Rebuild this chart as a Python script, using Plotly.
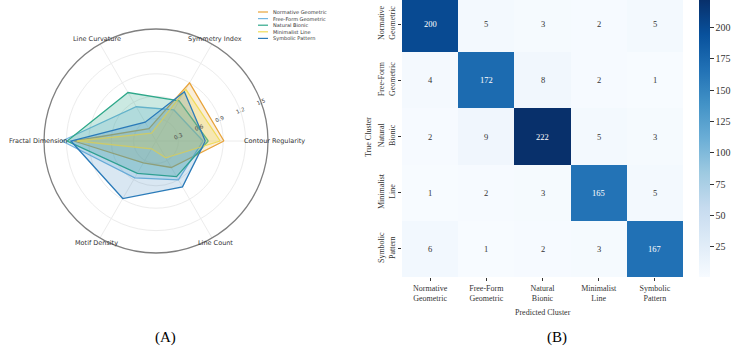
import math
import plotly.graph_objects as go

W, H = 733, 352

# ---------------- Radar data ----------------
radar_axes = ["Contour Regularity", "Symmetry Index", "Line Curvature",
              "Fractal Dimension", "Motif Density", "Line Count"]
series_names = ["Normative Geometric", "Free-Form Geometric", "Natural Bionic",
                "Minimalist Line", "Symbolic Pattern"]
normative = [0.91, 0.90, 0.19, 1.10, 0.34, 0.41]
free_form = [0.63, 0.48, 0.53, 1.26, 0.57, 0.60]
natural = [0.70, 0.62, 0.75, 1.19, 0.50, 0.55]
minimalist = [0.86, 0.80, 0.12, 1.06, 0.12, 0.26]
symbolic = [0.66, 0.76, 0.29, 1.14, 0.89, 0.71]
radial_ticks = [0.3, 0.6, 0.9, 1.2, 1.5]

# ---------------- Confusion matrix data ----------------
clusters = ["Normative Geometric", "Free-Form Geometric", "Natural Bionic",
            "Minimalist Line", "Symbolic Pattern"]
cm = [
    [200, 5, 3, 2, 5],
    [4, 172, 8, 2, 1],
    [2, 9, 222, 5, 3],
    [1, 2, 3, 165, 5],
    [6, 1, 2, 3, 167],
]
cbar_ticks = [25, 50, 75, 100, 125, 150, 175, 200]

colors = ["#E8A33A", "#74B6DF", "#2FA88A", "#F0DC5A", "#2B7BB9"]
fills = ["rgba(232,163,58,0.20)", "rgba(116,182,223,0.25)", "rgba(47,168,138,0.25)",
         "rgba(240,220,90,0.30)", "rgba(43,123,185,0.18)"]
all_series = [normative, free_form, natural, minimalist, symbolic]

fig = go.Figure()

# radar geometry (pixels)
cx, cy, R = 156, 141, 112
dom_x = [(cx - R) / W, (cx + R) / W]
dom_y = [1 - (cy + R) / H, 1 - (cy - R) / H]

for name, vals, col, fc in zip(series_names, all_series, colors, fills):
    fig.add_trace(go.Scatterpolar(
        r=vals + vals[:1], theta=radar_axes + radar_axes[:1],
        mode="lines", fill="toself", fillcolor=fc,
        line=dict(color=col, width=1.3), name=name, showlegend=False,
        subplot="polar"))

fig.update_layout(polar=dict(
    domain=dict(x=dom_x, y=dom_y),
    bgcolor="white",
    radialaxis=dict(range=[0, 1.5], tickvals=radial_ticks, angle=22.5, tickangle=0,
                    showline=False, ticks="", gridcolor="#ececec", gridwidth=0.8,
                    tickfont=dict(size=5.5, color="#444", family="DejaVu Sans")),
    angularaxis=dict(rotation=0, direction="counterclockwise", showticklabels=False,
                     ticks="", gridcolor="#ececec", gridwidth=0.8,
                     showline=True, linecolor="#808080", linewidth=1.3),
))

annotations = []
# angular labels
for i, lab in enumerate(radar_axes):
    a = math.radians(i * 360 / len(radar_axes))
    px = cx + 118 * math.cos(a)
    py = cy - 118 * math.sin(a)
    annotations.append(dict(x=px / W, y=1 - py / H, xref="paper", yref="paper",
                            text=lab, showarrow=False, xanchor="center", yanchor="middle",
                            font=dict(size=6.5, color="#333", family="DejaVu Sans")))

# custom compact legend
shapes = []
leg_x0, leg_y0, leg_dy = 258, 12, 6.6
for k, (name, col) in enumerate(zip(series_names, colors)):
    yy = leg_y0 + k * leg_dy
    shapes.append(dict(type="line", xref="paper", yref="paper",
                       x0=leg_x0 / W, x1=(leg_x0 + 10) / W, y0=1 - yy / H, y1=1 - yy / H,
                       line=dict(color=col, width=1.2)))
    annotations.append(dict(x=(leg_x0 + 13) / W, y=1 - yy / H, xref="paper", yref="paper",
                            text=name, showarrow=False, xanchor="left", yanchor="middle",
                            font=dict(size=5, color="#333", family="DejaVu Sans")))

# ---------------- Heatmap ----------------
blues = ['rgb(247,251,255)', 'rgb(222,235,247)', 'rgb(198,219,239)', 'rgb(158,202,225)',
         'rgb(107,174,214)', 'rgb(66,146,198)', 'rgb(33,113,181)', 'rgb(8,81,156)',
         'rgb(8,48,107)']
cscale = [[i / (len(blues) - 1), c] for i, c in enumerate(blues)]
zmin = min(min(r) for r in cm)
zmax = max(max(r) for r in cm)
idx = list(range(len(clusters)))
ticktext = [c.replace(" ", "<br>") for c in clusters]

hx0, hx1, hy1 = 402, 683, 277
fig.add_trace(go.Heatmap(
    z=cm, x=idx, y=idx, colorscale=cscale, zmin=zmin, zmax=zmax,
    xaxis="x", yaxis="y", showscale=True, hoverinfo="skip",
    colorbar=dict(x=699 / W, xanchor="left", xpad=0, ypad=0, thickness=11,
                  len=hy1 / H, lenmode="fraction", y=1, yanchor="top",
                  outlinewidth=0, tickvals=cbar_ticks, ticks="outside", ticklen=4,
                  tickcolor="#333",
                  tickfont=dict(size=10, family="Liberation Serif", color="#333"))))

for i, row in enumerate(cm):
    for j, v in enumerate(row):
        frac = (v - zmin) / (zmax - zmin)
        annotations.append(dict(x=j, y=i, xref="x", yref="y", text=str(v), showarrow=False,
                                xanchor="center", yanchor="middle",
                                font=dict(size=8.5, family="Liberation Serif",
                                          color="white" if frac > 0.5 else "#333")))

fig.update_layout(
    xaxis=dict(domain=[hx0 / W, hx1 / W], range=[-0.5, 4.5], tickvals=idx, ticktext=ticktext,
               ticks="outside", ticklen=3, tickcolor="#333", showgrid=False, zeroline=False,
               tickfont=dict(size=8, family="Liberation Serif", color="#333"), anchor="y"),
    yaxis=dict(domain=[1 - hy1 / H, 1], range=[4.5, -0.43], tickvals=idx, ticktext=ticktext,
               ticks="outside", ticklen=3, tickcolor="#333", showgrid=False, zeroline=False,
               tickangle=-90, tickfont=dict(size=8, family="Liberation Serif", color="#333"),
               anchor="x"),
)

annotations.append(dict(x=(hx0 + hx1) / 2 / W, y=1 - 312 / H, xref="paper", yref="paper",
                        text="Predicted Cluster", showarrow=False,
                        xanchor="center", yanchor="middle",
                        font=dict(size=8, family="Liberation Serif", color="#333")))
annotations.append(dict(x=368 / W, y=1 - 137 / H, xref="paper", yref="paper",
                        text="True Cluster", showarrow=False, textangle=-90,
                        xanchor="center", yanchor="middle",
                        font=dict(size=8, family="Liberation Serif", color="#333")))
# panel captions
annotations.append(dict(x=165 / W, y=1 - 337 / H, xref="paper", yref="paper", text="(A)",
                        showarrow=False, xanchor="center", yanchor="middle",
                        font=dict(size=15, family="Liberation Serif", color="black")))
annotations.append(dict(x=557 / W, y=1 - 337 / H, xref="paper", yref="paper", text="(B)",
                        showarrow=False, xanchor="center", yanchor="middle",
                        font=dict(size=15, family="Liberation Serif", color="black")))

fig.update_layout(width=W, height=H, margin=dict(l=0, r=0, t=0, b=0),
                  paper_bgcolor="white", plot_bgcolor="white", showlegend=False,
                  annotations=annotations, shapes=shapes)

fig.write_html("out.html")
